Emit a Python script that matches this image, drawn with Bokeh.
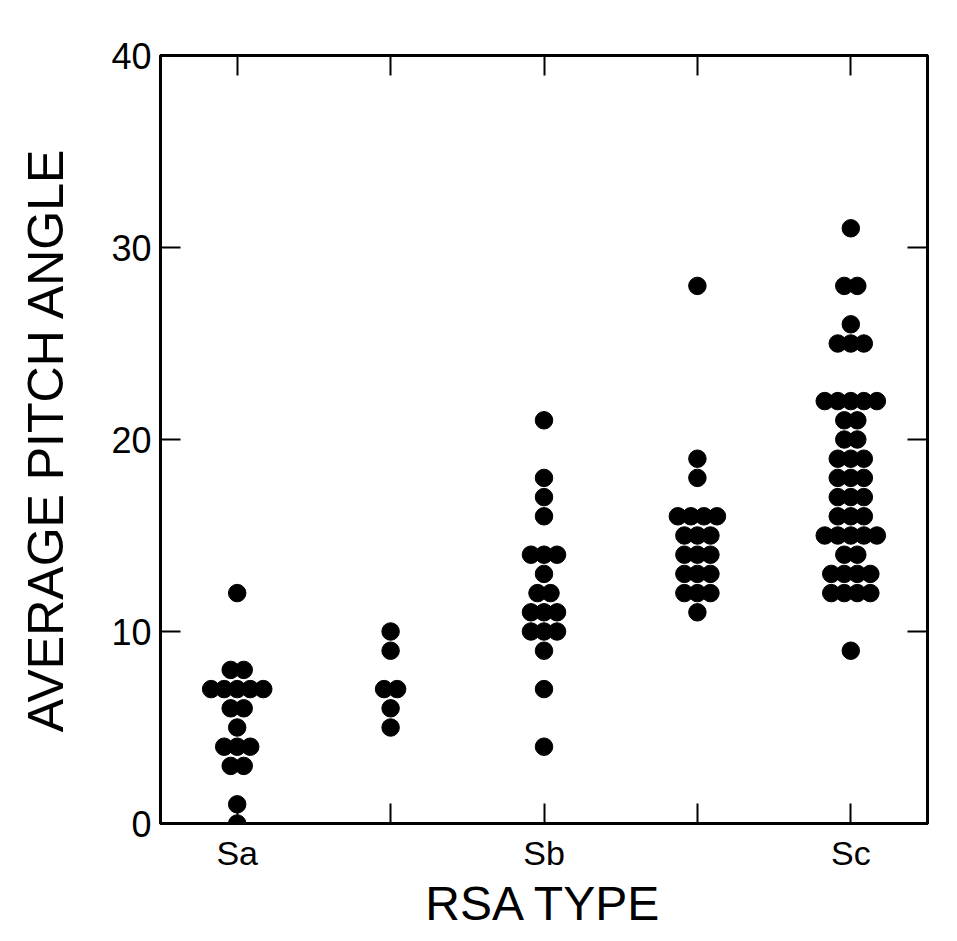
from bokeh.plotting import figure
from bokeh.models import Range1d, LinearAxis, FixedTicker, ColumnDataSource
from bokeh.embed import file_html
from bokeh.resources import INLINE

# Data
categories = ["Sa", "Sab", "Sb", "Sbc", "Sc"]
tick_labels = {1: "Sa", 2: "", 3: "Sb", 4: "", 5: "Sc"}
y_ticks = [0, 10, 20, 30, 40]

sa_values = [12, 8, 8, 7, 7, 7, 7, 7, 6, 6, 5, 4, 4, 4, 3, 3, 1, 0]
sab_values = [10, 9, 7, 7, 6, 5]
sb_values = [21, 18, 17, 16, 14, 14, 14, 13, 12, 12, 11, 11, 11, 10, 10, 10, 9, 7, 4]
sbc_values = [28, 19, 18, 16, 16, 16, 16, 15, 15, 15, 14, 14, 14, 13, 13, 13,
              12, 12, 12, 11]
sc_values = [31, 28, 28, 26, 25, 25, 25, 22, 22, 22, 22, 22, 21, 21, 20, 20,
             19, 19, 19, 18, 18, 18, 17, 17, 17, 16, 16, 16, 15, 15, 15, 15, 15,
             14, 14, 13, 13, 13, 13, 12, 12, 12, 12, 9]

series = [sa_values, sab_values, sb_values, sbc_values, sc_values]

# Dot-plot layout: equal values are stacked side by side, centred on the category
spacing = 0.085
xs, ys = [], []
for i, vals in enumerate(series):
    pos = i + 1
    counts = {}
    for v in vals:
        counts[v] = counts.get(v, 0) + 1
    for v, n in counts.items():
        for k in range(n):
            xs.append(pos + (k - (n - 1) / 2) * spacing)
            ys.append(v)

src = ColumnDataSource(dict(x=xs, y=ys))

p = figure(width=940, height=932,
           x_range=Range1d(0.5, 5.5), y_range=Range1d(0, 40),
           output_backend="svg", toolbar_location=None,
           min_border_left=160, min_border_top=55,
           min_border_right=13, min_border_bottom=107)
p.grid.visible = False
p.outline_line_color = "black"
p.outline_line_width = 3
p.background_fill_color = "white"
p.border_fill_color = "white"

p.scatter("x", "y", source=src, size=17.5, color="black")

font = "Liberation Sans"

def style_axis(ax):
    ax.axis_line_color = "black"
    ax.axis_line_width = 3
    ax.major_tick_line_color = "black"
    ax.major_tick_line_width = 2
    ax.major_tick_in = 20
    ax.major_tick_out = 0
    ax.minor_tick_line_color = None
    ax.major_label_text_font = font
    ax.major_label_text_color = "black"
    ax.axis_label_text_font = font
    ax.axis_label_text_font_style = "normal"
    ax.axis_label_text_color = "black"

# bottom axis
xa = p.xaxis[0]
style_axis(xa)
xa.ticker = FixedTicker(ticks=[1, 2, 3, 4, 5])
xa.major_label_overrides = tick_labels
xa.major_label_text_font_size = "34px"
xa.major_label_standoff = 10
xa.axis_label = "RSA TYPE"
xa.axis_label_text_font_size = "48px"
xa.axis_label_standoff = 2

# left axis
ya = p.yaxis[0]
style_axis(ya)
ya.ticker = FixedTicker(ticks=y_ticks)
ya.major_label_text_font_size = "36px"
ya.major_label_standoff = 9
ya.axis_label = "AVERAGE PITCH ANGLE"
ya.axis_label_text_font_size = "50px"
ya.axis_label_standoff = 34

# top and right axes: ticks only
top = LinearAxis(ticker=FixedTicker(ticks=[1, 2, 3, 4, 5]),
                 major_label_overrides={1: "", 2: "", 3: "", 4: "", 5: ""})
style_axis(top)
p.add_layout(top, "above")

right = LinearAxis(ticker=FixedTicker(ticks=y_ticks),
                   major_label_overrides={0: "", 10: "", 20: "", 30: "", 40: ""})
style_axis(right)
p.add_layout(right, "right")

open("out.html", "w").write(file_html(p, INLINE))
